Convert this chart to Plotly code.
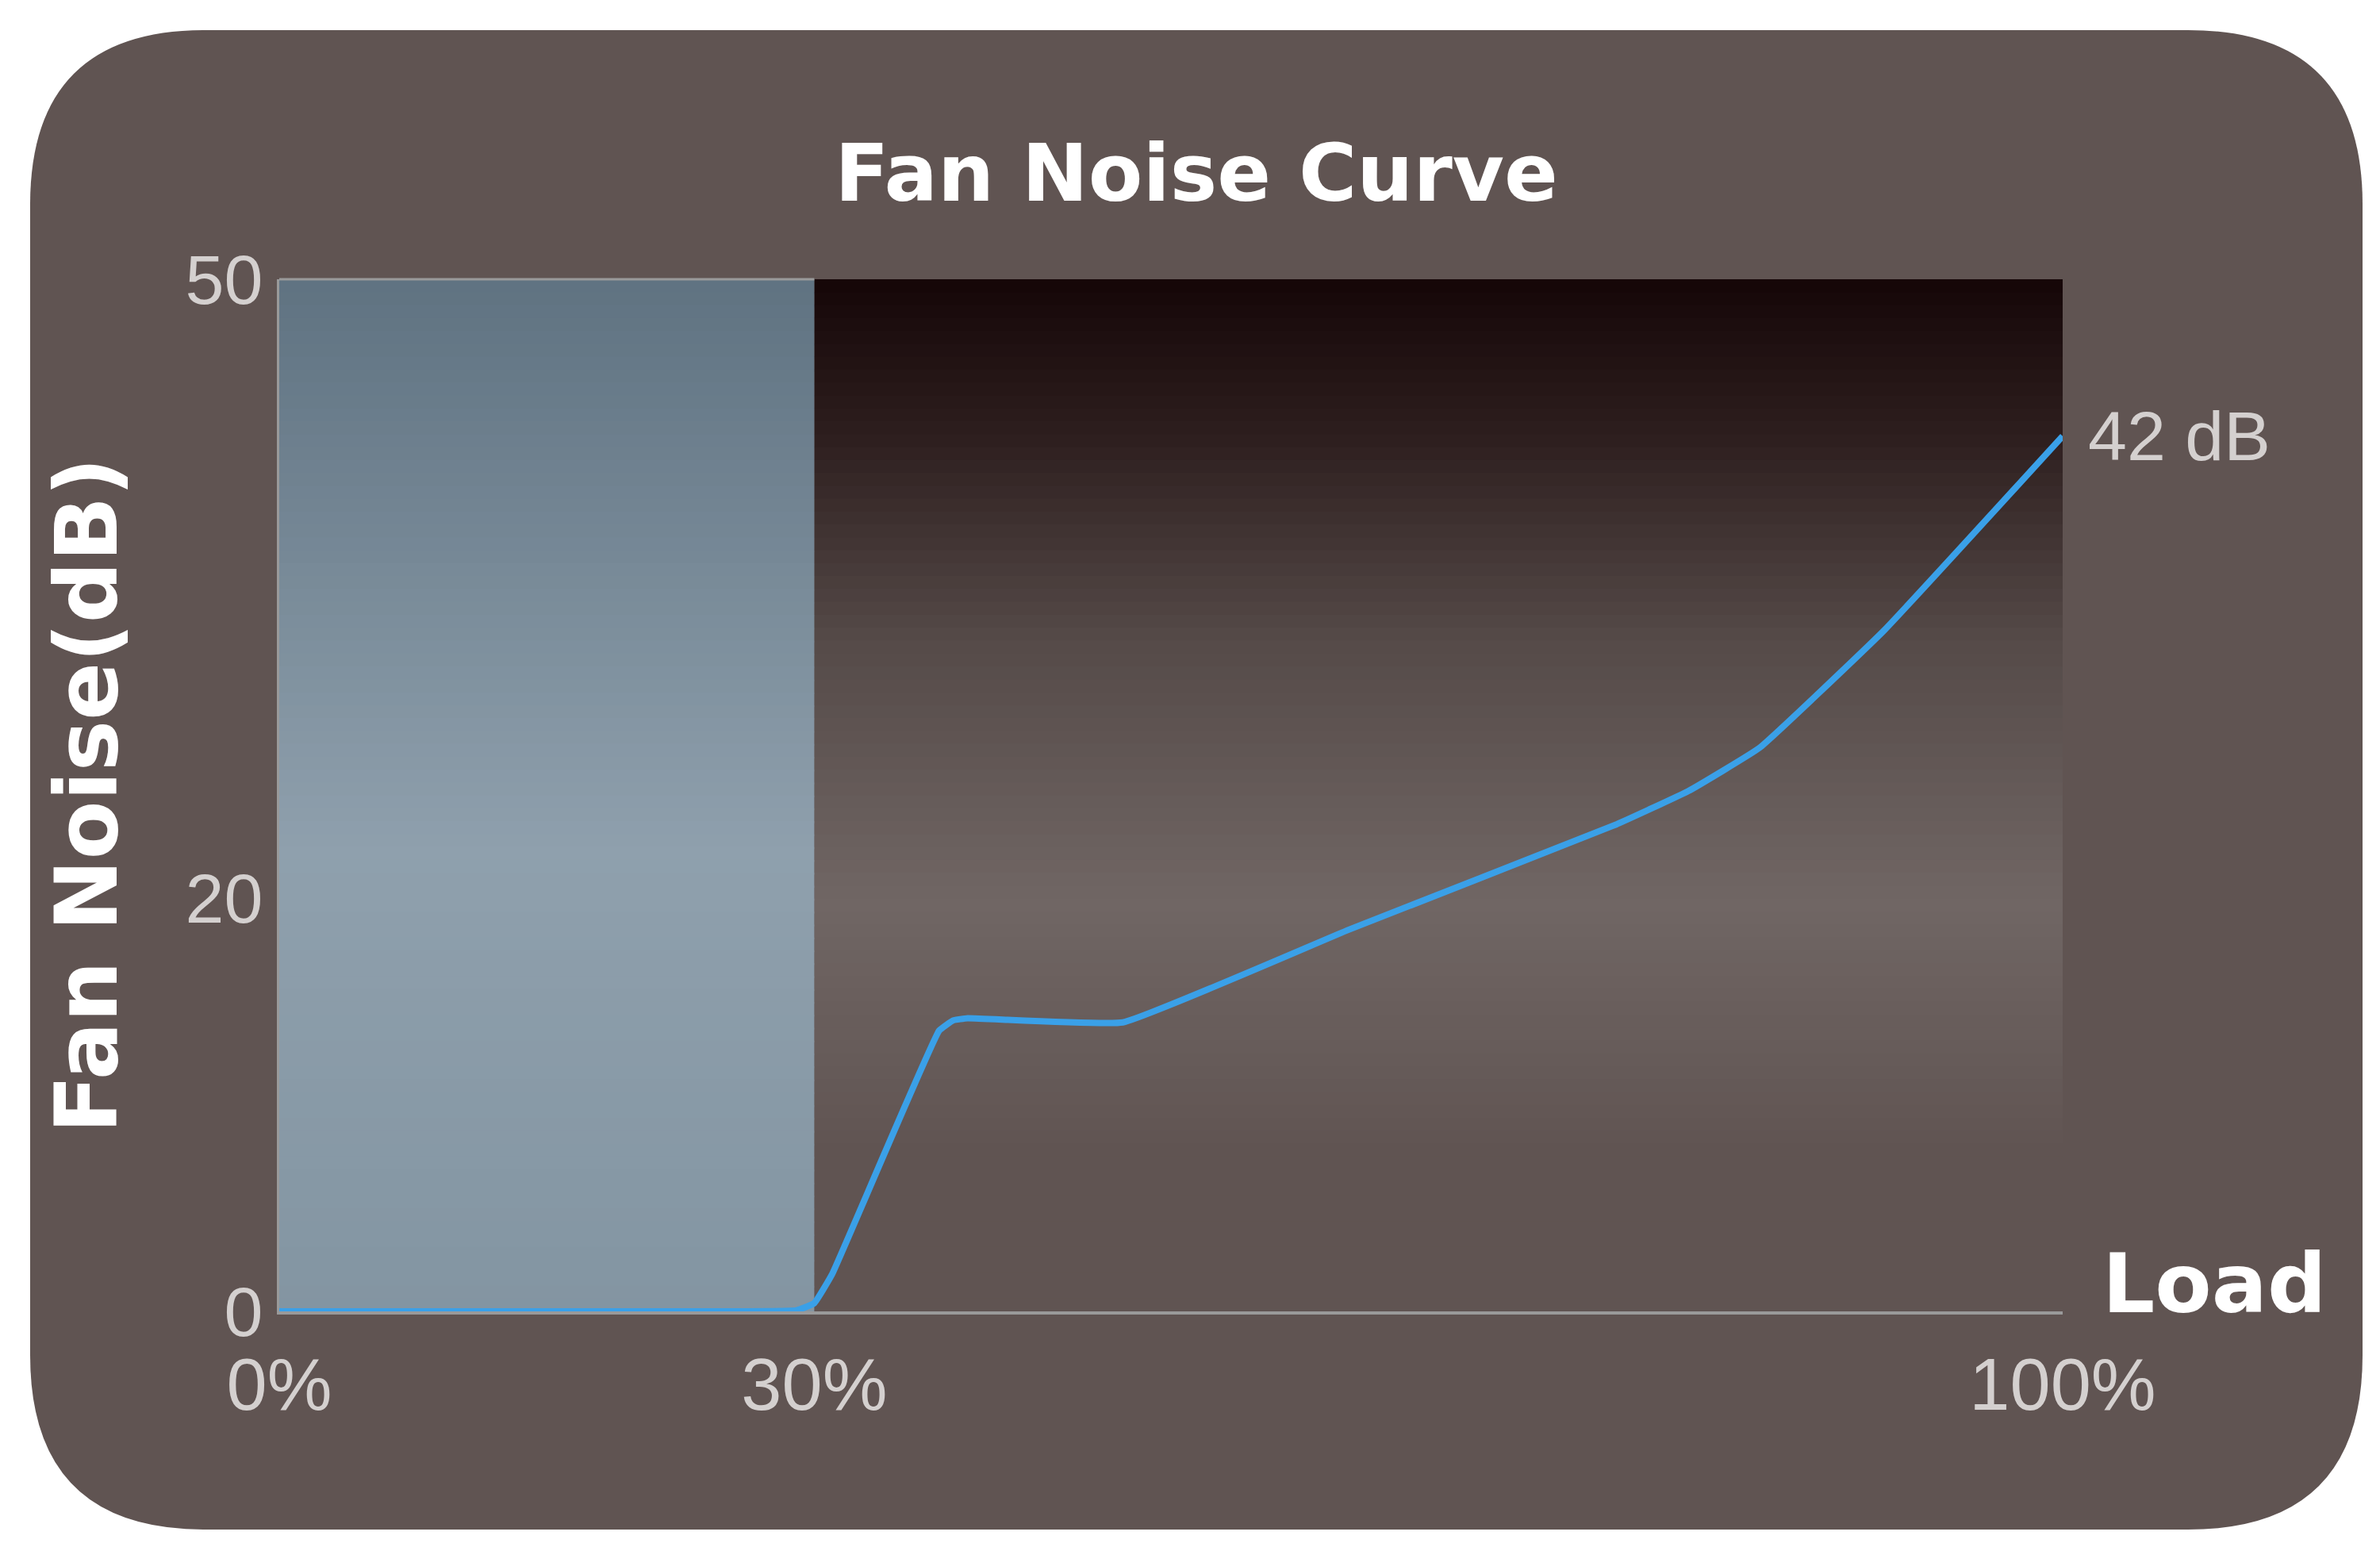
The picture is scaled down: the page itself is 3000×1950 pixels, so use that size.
import plotly.graph_objects as go

# values
load = [0, 10, 20, 29, 30, 31, 37, 37.8, 38.6, 47.3, 60, 75, 79, 83, 90, 100]
noise = [0, 0, 0, 0.05, 0.4, 1.8, 13.6, 14.1, 14.2, 14.0, 18.5, 23.6, 25.2, 27.3, 33.0, 42.4]
y_ticks = [0, 20, 50]
x_ticks = [0, 30, 100]
x_labels = ["0%", "30%", "100%"]

W, H = 3000, 1950
L, R, T, B = 344, 408, 344, 305
pw, ph = W - L - R, H - T - B

def px(x):
    return (x - L) / pw

def py(y):
    return (H - B - y) / ph

def mix(c1, c2, t):
    return "rgb(%d,%d,%d)" % tuple(round(a + (b - a) * t) for a, b in zip(c1, c2))

def grad(stops, t):
    for (t0, c0), (t1, c1) in zip(stops, stops[1:]):
        if t <= t1:
            return mix(c0, c1, (t - t0) / (t1 - t0))
    return mix(stops[-1][1], stops[-1][1], 0)

shapes = []

# rounded card background
x0, x1, y0, y1, r = px(30), px(2970), py(30), py(1920), 220
rx, ry = r / pw, r / ph
path = (f"M {x0+rx},{y0} L {x1-rx},{y0} Q {x1},{y0} {x1},{y0-ry} "
        f"L {x1},{y1+ry} Q {x1},{y1} {x1-rx},{y1} L {x0+rx},{y1} "
        f"Q {x0},{y1} {x0},{y1+ry} L {x0},{y0-ry} Q {x0},{y0} {x0+rx},{y0} Z")
shapes.append(dict(type="path", path=path, xref="paper", yref="paper",
                   fillcolor="#605452", line_width=0, layer="below"))

dark = [(0, (21, 6, 7)), (0.15, (45, 30, 30)), (0.35, (85, 74, 72)),
        (0.6, (112, 102, 100)), (0.85, (96, 84, 82)), (1, (96, 84, 82))]
blue = [(0, (95, 114, 129)), (0.55, (143, 160, 173)), (1, (131, 149, 162))]
n = 80
for i in range(n):
    t = (i + 0.5) / n
    ya, yb = 1 - i / n, 1 - (i + 1) / n - 0.002
    shapes.append(dict(type="rect", xref="x", yref="paper", x0=30, x1=100, y0=yb, y1=ya,
                       fillcolor=grad(dark, t), line_width=0, layer="below"))
    shapes.append(dict(type="rect", xref="x", yref="paper", x0=0, x1=30, y0=yb, y1=ya,
                       fillcolor=grad(blue, t), line_width=0, layer="below"))
shapes.append(dict(type="line", xref="x", yref="paper", x0=0, x1=30, y0=1, y1=1,
                   line=dict(color="#9a9a9a", width=3)))

fig = go.Figure(go.Scatter(x=load, y=noise, mode="lines",
                           line=dict(color="#3aa0e8", width=8, shape="spline", smoothing=0.3),
                           hoverinfo="skip"))

fig.update_layout(
    width=W, height=H, margin=dict(l=L, r=R, t=T, b=B),
    paper_bgcolor="white", plot_bgcolor="rgba(0,0,0,0)",
    shapes=shapes, showlegend=False,
    font=dict(family="Liberation Sans, Arial", color="#d4d0cf"),
    title=dict(text="<b>Fan Noise Curve</b>", x=0.5, xanchor="center",
               y=1 - 210 / H, yanchor="middle",
               font=dict(size=100, color="white", family="DejaVu Sans")),
    xaxis=dict(range=[0, 100], tickvals=x_ticks, ticktext=x_labels, showgrid=False,
               zeroline=False, showline=True, linecolor="#9a9a9a", linewidth=4,
               tickfont=dict(size=92, color="#d4d0cf"), ticks="", ticklabelstandoff=10),
    yaxis=dict(range=[0, 50], tickvals=y_ticks, showgrid=False, zeroline=False,
               showline=True, linecolor="#9a9a9a", linewidth=3, ticks="",
               tickfont=dict(size=88, color="#d4d0cf"),
               title=dict(text="<b>Fan Noise(dB)</b>", standoff=50,
                          font=dict(size=108, color="white", family="DejaVu Sans"))),
    annotations=[
        dict(x=100, y=noise[-1], xref="x", yref="y", text="42 dB", showarrow=False,
             xanchor="left", xshift=30, font=dict(size=88, color="#d4d0cf")),
        dict(x=px(2640), y=py(1610), xref="paper", yref="paper", text="<b>Load</b>",
             showarrow=False, xanchor="left", yanchor="middle",
             font=dict(size=104, color="white", family="DejaVu Sans")),
    ],
)

fig.write_html("out.html")
